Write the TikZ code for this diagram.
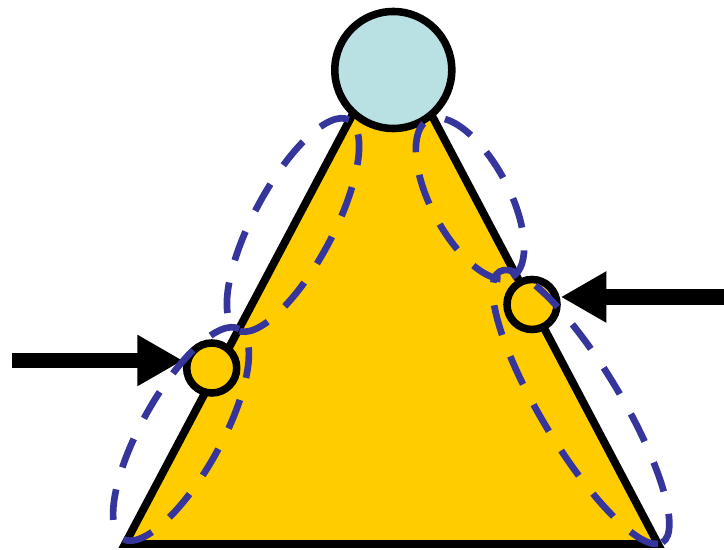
\documentclass[tikz,border=0pt]{standalone}
\usetikzlibrary{arrows.meta}
\definecolor{fillyellow}{HTML}{FFCC00}
\definecolor{topblue}{HTML}{B9E0E3}
\definecolor{ringblue}{HTML}{35359B}
\begin{document}
\begin{tikzpicture}[>={Triangle[length=9.1mm, width=9.6mm]},
  joint/.style={circle, draw, line width=4.3pt, inner sep=0pt, fill=fillyellow, minimum size=1cm},
  dashring/.style={draw=ringblue, line width=3.8pt, dash pattern=on 17.5pt off 13pt},
  push/.style={->, line width=0.31cm}]
  \useasboundingbox (0,0) rectangle (14.48,11);

  % Triangle
  \coordinate (A) at (7.84,10.2);
  \coordinate (B) at (2.5,0.12);
  \coordinate (C) at (13.16,0.12);
  \draw[line width=4.5pt, fill=fillyellow] (A) -- (B) -- (C) -- cycle;

  % Joints
  \node[joint, fill=topblue, minimum size=2.34cm] (Top) at (7.866,9.6) {};
  \node[joint] (Lp) at (4.234,3.64) {};
  \node[joint] (Rp) at (10.64,4.91) {};

  % Pushing arrows
  \coordinate (Lin) at (0.24,3.79);
  \coordinate (Rin) at (14.48,5.06);
  \draw[push] (Lin) -- (Lin -| Lp.west);
  \draw[push] (Rin) -- (Rin -| Rp.east);

  % Dashed rings
  \coordinate (E1) at (5.86,6.5);
  \coordinate (E2) at (3.62,2.32);
  \coordinate (E3) at (9.4,7.03);
  \coordinate (E4) at (11.62,2.86);
  \draw[dashring, rotate around={62:(E1)}] (E1) ellipse (2.38 and 0.8);
  \draw[dashring, rotate around={61:(E2)}] (E2) ellipse (2.4 and 0.8);
  \draw[dashring, rotate around={-62:(E3)}] (E3) ellipse (1.78 and 0.78);
  \draw[dashring, rotate around={-59:(E4)}] (E4) ellipse (3.16 and 0.8);
\end{tikzpicture}
\end{document}
